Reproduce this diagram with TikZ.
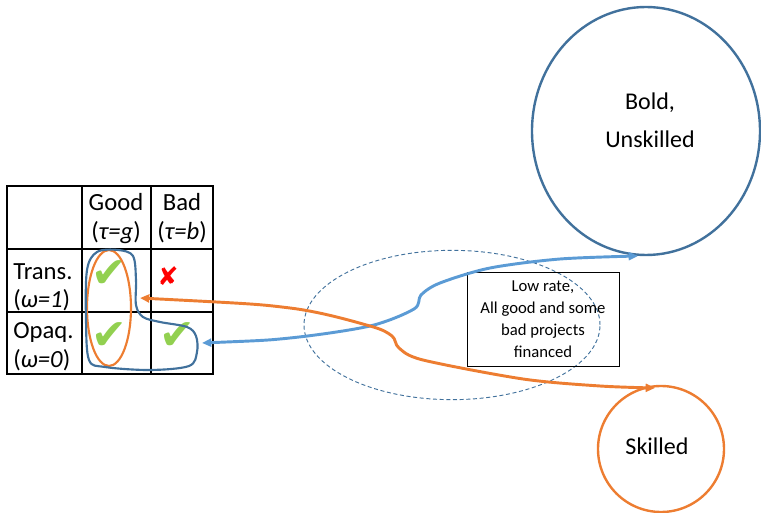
\documentclass[tikz,border=0pt]{standalone}
\usepackage{fontspec}
\setmainfont{Carlito}
\newfontfamily\symfont{DejaVu Sans}
\usetikzlibrary{shapes.geometric,arrows.meta}
\definecolor{darkblue}{HTML}{41719C}
\definecolor{lightblue}{HTML}{5B9BD5}
\definecolor{myorange}{HTML}{ED7D31}
\definecolor{mygreen}{HTML}{92D050}
\definecolor{myred}{HTML}{FF0000}

\begin{document}
\begin{tikzpicture}[x=0.75pt,y=-0.75pt,
    cell/.style={font=\fontsize{18.5}{20}\selectfont, inner sep=0pt},
    tick/.style={text=mygreen, font=\symfont\fontsize{32}{32}\selectfont, inner sep=0pt},
    cross/.style={text=myred, font=\symfont\fontsize{19}{19}\selectfont, inner sep=0pt},
    ring/.style={ellipse, draw, line width=1.8pt, inner sep=0pt, outer sep=0pt},
    twoway/.style={{Triangle[length=7pt,width=6pt]}-{Triangle[length=7pt,width=6pt]}, line width=2.2pt}]
    \useasboundingbox (0,0) rectangle (761,513);

    % the table
    \draw[line width=0.8pt] (7,186) rectangle (213,374);
    \draw[line width=0.8pt] (82,186) -- (82,374) (151,186) -- (151,374);
    \draw[line width=0.8pt] (7,249) -- (213,249) (7,312) -- (213,312);
    \node[cell, anchor=base] (good)  at (116,211) {Good};
    \node[cell, anchor=base] (goodt) at (116,240) {(\textit{τ=g})};
    \node[cell, anchor=base] (bad)   at (182,211) {Bad};
    \node[cell, anchor=base] (badt)  at (182,240) {(\textit{τ=b})};
    \node[cell, anchor=base west] (trans)  at (13,280) {Trans.};
    \node[cell, anchor=base west] (transw) at (13,308) {(\textit{ω=1})};
    \node[cell, anchor=base west] (opaq)   at (13,339) {Opaq.};
    \node[cell, anchor=base west] (opaqw)  at (13,368) {(\textit{ω=0})};

    \node[tick] (tgood) at (109,274) {✔};
    \node[tick] (ogood) at (109,336) {✔};
    \node[tick] (obad)  at (177,336) {✔};
    \node[cross] (tbad) at (168,276) {✘};

    % groups of financed cells
    \node[ring, draw=myorange, line width=1.6pt, minimum width=33pt, minimum height=87pt] (goodcol) at (109,308) {};
    \draw[darkblue, line width=1.6pt] plot[smooth cycle, tension=0.55] coordinates {
        (97,252) (118,250) (133,256) (136,280) (136,305) (143,317) (160,322)
        (187,327) (196,336) (197,352) (189,366) (150,370) (105,367) (89,360)
        (86,320) (87,270)};

    % the types
    \node[ring, draw=darkblue, minimum width=171pt, minimum height=186pt] (bold) at (646,131) {};
    \node[font=\fontsize{18}{28.5}\selectfont, align=center] (boldtxt) at (650,120) {Bold,\\Unskilled};
    \node[ring, draw=myorange, minimum width=94.5pt, minimum height=94.5pt] (skilled) at (661,449) {};
    \node[font=\fontsize{18}{20}\selectfont] (skilledtxt) at (657,446) {Skilled};

    % pooling region
    \node[ellipse, draw=darkblue, dashed, dash pattern=on 3pt off 2pt, line width=0.7pt,
        minimum width=222pt, minimum height=112pt, inner sep=0pt] (pool) at (452,325) {};
    \node[draw, line width=0.7pt, minimum width=114pt, minimum height=70.5pt,
        font=\fontsize{12.5}{16.5}\selectfont, align=center] (low) at (543,319)
        {Low rate,\\All good and some\\bad projects\\financed};

    \coordinate (bend) at (202,343);
    \coordinate (oend) at (140,298);
    \draw[lightblue, twoway] plot[smooth, tension=0.5] coordinates {
        (bend) (290,338) (370,326) (414,309) (421,295) (440,283) (490,268) (560,259) (638,256)};
    \draw[myorange, twoway] plot[smooth, tension=0.5] coordinates {
        (oend) (290,308) (370,326) (392,336) (399,348) (423,360) (523,379) (600,386) (655,388)};
\end{tikzpicture}
\end{document}
